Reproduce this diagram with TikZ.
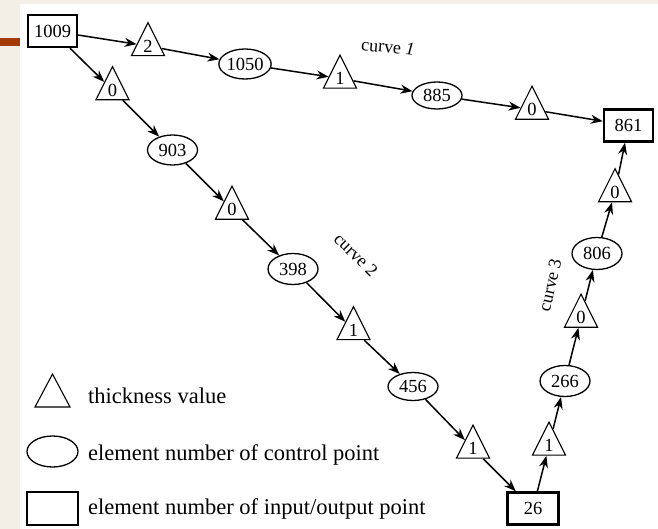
\documentclass[tikz,border=0pt]{standalone}
\usepackage{fontspec}
\setmainfont{Liberation Serif}
\usetikzlibrary{shapes.geometric,arrows.meta}
\definecolor{pagebg}{HTML}{F3EFE7}
\definecolor{rust}{HTML}{A33A06}
\begin{document}
\begin{tikzpicture}[x=1pt,y=-1pt,
  num/.style={font=\fontsize{18.5}{20}\selectfont, inner sep=0pt},
  io/.style={num, draw, line width=2.4pt, minimum width=49pt, minimum height=32pt},
  ctrl/.style={num, draw, ellipse, line width=1.3pt, minimum width=50pt, minimum height=30pt},
  thk/.style={num, draw, isosceles triangle, isosceles triangle stretches,
    shape border rotate=90, minimum width=33pt, minimum height=33pt, line width=1.1pt},
  link/.style={line width=1.5pt, -{Stealth[length=12pt,width=9pt]}},
  curvelabel/.style={font=\fontsize{18}{20}\selectfont, inner sep=0pt},
  legendtext/.style={font=\fontsize{22.5}{24}\selectfont, anchor=base west, inner sep=0pt}]
% page and panel
\fill[pagebg] (0,0) rectangle (658,529);
\fill[white] (20,4) rectangle (658,529);
\fill[rust] (0,38) rectangle (20,46.5);
\useasboundingbox (0,0) rectangle (658,529);

% input/output points
\node[io] (n1009) at (52.5,31) {1009};
\node[io] (n861) at (628.5,125.5) {861};
\node[io, minimum width=51pt] (n26) at (533,508.5) {26};

% curve 1
\node[thk] (c1t1) at (148,46) {2};
\node[ctrl] (c1e1) at (245,64) {1050};
\node[thk] (c1t2) at (340,78.5) {1};
\node[ctrl, minimum height=27pt] (c1e2) at (437,95.5) {885};
\node[thk] (c1t3) at (532,109.5) {0};

% curve 2
\node[thk] (c2t1) at (112.5,90) {0};
\node[ctrl] (c2e1) at (172.5,150) {903};
\node[thk] (c2t2) at (232,209.5) {0};
\node[ctrl, minimum height=31pt] (c2e2) at (293,269) {398};
\node[thk] (c2t3) at (353.5,330) {1};
\node[ctrl, minimum height=28pt] (c2e3) at (413,386.5) {456};
\node[thk] (c2t4) at (473,448.5) {1};

% curve 3
\node[thk] (c3t1) at (549,445.5) {1};
\node[ctrl, minimum height=31pt] (c3e1) at (565,381) {266};
\node[thk] (c3t2) at (581,317.5) {0};
\node[ctrl, minimum height=32pt] (c3e2) at (597,253.5) {806};
\node[thk] (c3t3) at (615,192) {0};

% curve names
\node[curvelabel, rotate=-5] (lab1) at (388,47) {curve \textit{1}};
\node[curvelabel, rotate=-45] (lab2) at (356,255) {curve 2};
\node[curvelabel, rotate=77] (lab3) at (550,285) {curve 3};

% connectors
\draw[link] (n1009) -- (c1t1);
\draw[link] (c1t1) -- (c1e1);
\draw[link] (c1e1) -- (c1t2);
\draw[link] (c1t2) -- (c1e2);
\draw[link] (c1e2) -- (c1t3);
\draw[link] (c1t3) -- (n861);

\draw[link] (n1009) -- (c2t1);
\draw[link] (c2t1) -- (c2e1);
\draw[link] (c2e1) -- (c2t2);
\draw[link] (c2t2) -- (c2e2);
\draw[link] (c2e2) -- (c2t3);
\draw[link] (c2t3) -- (c2e3);
\draw[link] (c2e3) -- (c2t4);
\draw[link] (c2t4) -- (n26);

\draw[link] (n26) -- (c3t1);
\draw[link] (c3t1) -- (c3e1);
\draw[link] (c3e1) -- (c3t2);
\draw[link] (c3t2) -- (c3e2);
\draw[link] (c3e2) -- (c3t3);
\draw[link] (c3t3) -- (n861);

% legend
\node[thk, minimum width=35pt] (keytri) at (52.5,396.5) {};
\node[ctrl, minimum width=51pt, minimum height=31pt] (keyell) at (52.5,451.5) {};
\node[io, minimum width=51pt, minimum height=33pt] (keybox) at (52.5,508.5) {};
\node[legendtext] (keytxt1) at (88,403) {thickness value};
\node[legendtext] (keytxt2) at (88,460) {element number of control point};
\node[legendtext] (keytxt3) at (88,514) {element number of input/output point};
\end{tikzpicture}
\end{document}
